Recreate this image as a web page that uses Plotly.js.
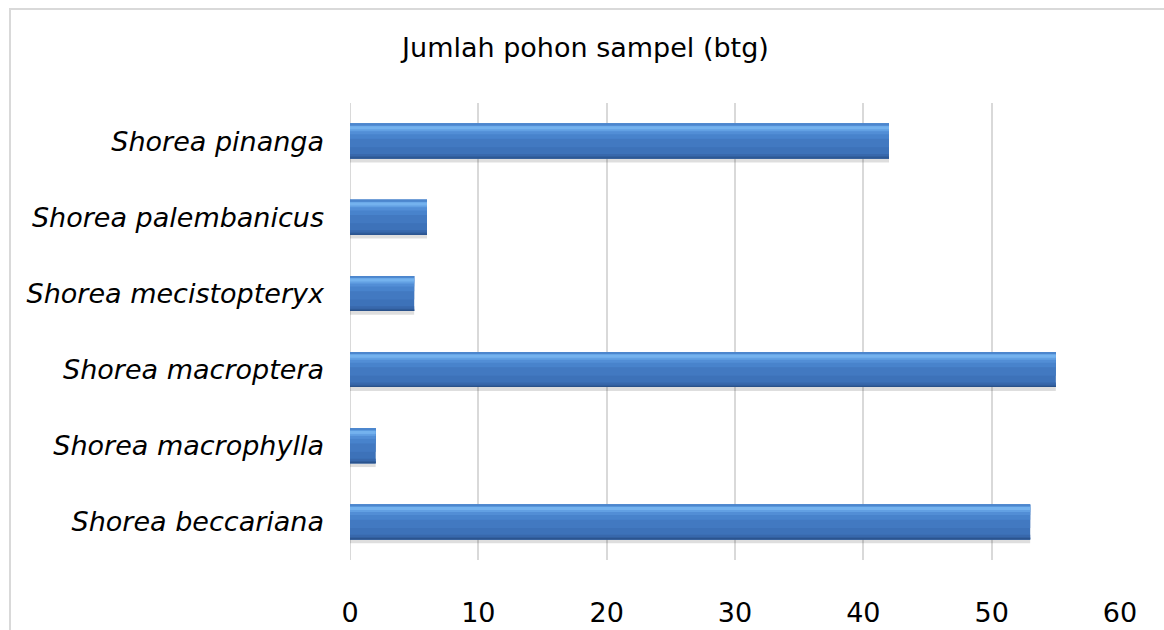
<!DOCTYPE html>
<html>
<head>
<meta charset="utf-8">
<script src="https://cdn.plot.ly/plotly-3.0.1.min.js"></script>
<style>
  html, body { margin: 0; padding: 0; background: #ffffff; overflow: hidden; }
  #frame { position: absolute; left: 9px; top: 8px; width: 1300px; height: 800px;
           border-top: 2px solid #d9d9d9; border-left: 2px solid #d9d9d9; box-sizing: border-box; }
  #chart { position: absolute; left: 0; top: 0; width: 1164px; height: 630px; }
</style>
</head>
<body>
<div id="frame"></div>
<div id="chart"></div>
<script>
const species = ["Shorea beccariana", "Shorea macrophylla", "Shorea macroptera",
                 "Shorea mecistopteryx", "Shorea palembanicus", "Shorea pinanga"];
const treeCounts = [53, 2, 55, 5, 6, 42];
const xTicks = [0, 10, 20, 30, 40, 50, 60];
const chartTitle = "Jumlah pohon sampel (btg)";

const FONT = "DejaVu Sans, Verdana, sans-serif";
const H = 0.23; // half bar thickness (category units)

// [color, low edge, high edge] bands that build the bar's shaded look
const bands = [
  ["rgba(0,0,0,0.13)", -H - 0.05, H - 0.05],
  ["#3d72b9", -H, H],
  ["#4279c1", -0.08, H],
  ["#4883cc", 0.03, H],
  ["#528ed6", 0.09, H],
  ["#62a0e3", 0.13, 0.205],
  ["#74b2ee", 0.155, 0.195],
  ["#4c86cd", 0.205, H],
  ["#3868ac", -H, -0.17],
  ["#315e9c", -H, -0.2],
  ["#2a528b", -H, -0.215]
];

const traces = bands.map(b => ({
  type: "bar", orientation: "h", x: treeCounts, y: species,
  width: b[2] - b[1], offset: b[1], hoverinfo: "skip",
  marker: { color: b[0], line: { width: 0 } }, showlegend: false
}));

const layout = {
  width: 1164, height: 630,
  paper_bgcolor: "rgba(0,0,0,0)", plot_bgcolor: "rgba(0,0,0,0)",
  margin: { l: 350, r: 44, t: 103, b: 70, pad: 0 },
  barmode: "overlay",
  title: { text: chartTitle, x: 0.503, xanchor: "center", y: 0.925, yanchor: "middle",
           font: { family: FONT, size: 27, color: "#000000" } },
  xaxis: {
    range: [0, 60], tickvals: xTicks, ticktext: xTicks.map(String),
    showgrid: true, gridcolor: "#d9d9d9", gridwidth: 2,
    zeroline: false, showline: false, ticks: "",
    ticklabelstandoff: 34,
    tickfont: { family: FONT, size: 27, color: "#000000" }
  },
  yaxis: {
    type: "category", categoryorder: "array", categoryarray: species,
    showgrid: false, zeroline: false, showline: false, ticks: "",
    ticklabelstandoff: 25,
    tickfont: { family: FONT, size: 27, color: "#000000", style: "italic" }
  },
  shapes: [
    { type: "line", xref: "x", yref: "paper", x0: 0, x1: 0, y0: 0, y1: 1,
      line: { color: "#d9d9d9", width: 2 }, layer: "below" }
  ]
};

Plotly.newPlot("chart", traces, layout, { staticPlot: true, displayModeBar: false });
</script>
</body>
</html>
